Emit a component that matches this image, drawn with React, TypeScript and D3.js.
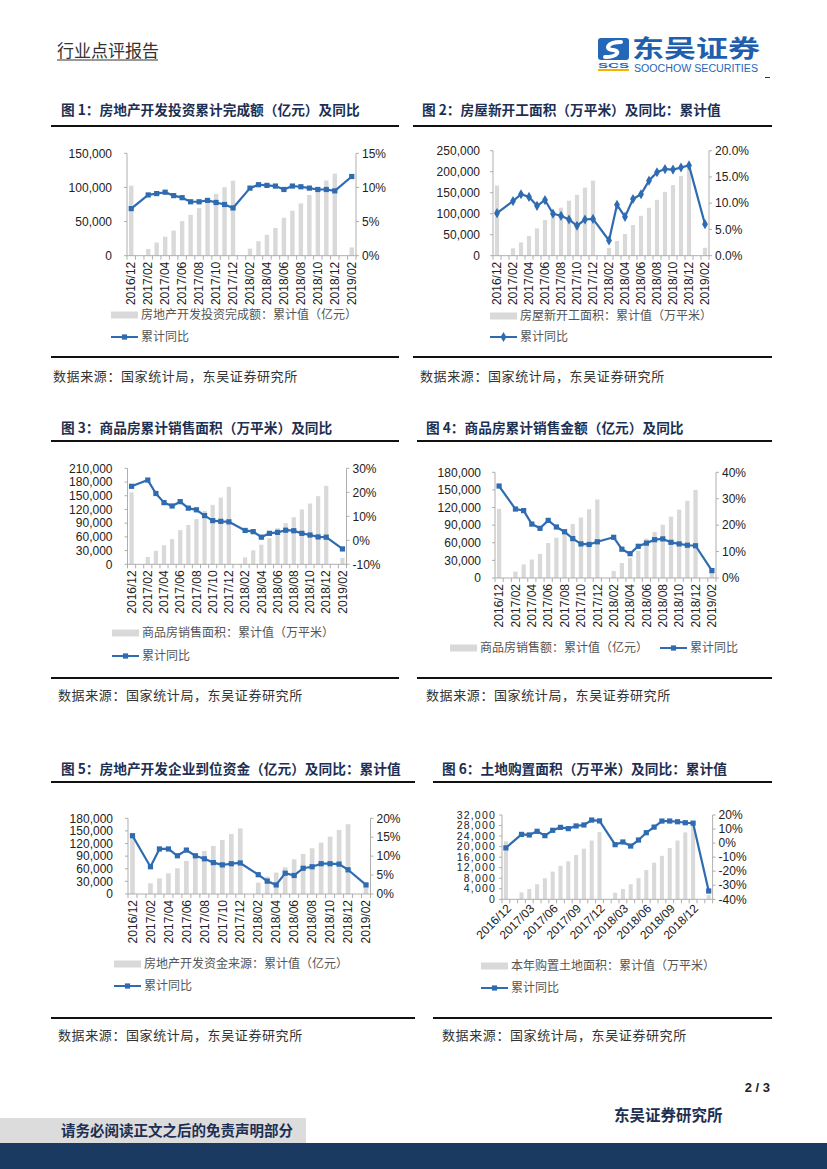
import React from 'react';
import * as d3 from 'd3';

// category axis: Jan is empty (Jan-Feb reported together)
const months = [
  '2016/12',
  '2017/01', '2017/02', '2017/03', '2017/04', '2017/05', '2017/06', '2017/07', '2017/08', '2017/09', '2017/10', '2017/11', '2017/12',
  '2018/01', '2018/02', '2018/03', '2018/04', '2018/05', '2018/06', '2018/07', '2018/08', '2018/09', '2018/10', '2018/11', '2018/12',
  '2019/01', '2019/02',
];
const ticksEvery2 = ['2016/12', '2017/02', '2017/04', '2017/06', '2017/08', '2017/10', '2017/12', '2018/02', '2018/04', '2018/06', '2018/08', '2018/10', '2018/12', '2019/02'];
const ticksEvery3 = ['2016/12', '2017/03', '2017/06', '2017/09', '2017/12', '2018/03', '2018/06', '2018/09', '2018/12'];

// fig 1: investment (亿元) / yoy %
const investValue = [102581, null, 9854, 19292, 27732, 36800, 50610, 59761, 69694, 80644, 90544, 100387, 109799, null, 10357, 21291, 30592, 40632, 55531, 65878, 76519, 88948, 98500, 110083, 120264, null, 12090];
const investYoy = [6.9, null, 8.9, 9.1, 9.3, 8.8, 8.5, 7.9, 7.9, 8.1, 7.8, 7.5, 7.0, null, 9.9, 10.4, 10.3, 10.2, 9.7, 10.2, 10.1, 9.9, 9.7, 9.7, 9.5, null, 11.6];

// fig 2: new starts (万平米)
const startsValue = [166928, null, 17500, 31700, 46800, 65000, 85000, 99200, 114300, 131000, 145000, 162000, 178654, null, 18800, 35000, 51600, 73000, 95000, 114000, 133000, 152000, 168000, 190000, 209342, null, 18800];
const startsYoy = [8.1, null, 10.4, 11.7, 11.2, 9.5, 10.6, 8.0, 7.6, 6.9, 5.7, 6.9, 7.0, null, 2.9, 9.7, 7.4, 10.8, 11.7, 14.3, 15.9, 16.5, 16.4, 16.8, 17.2, null, 6.0];

// fig 3: sales area (万平米)
const salesArea = [157349, null, 16000, 29500, 41500, 55000, 74662, 86000, 99000, 117000, 130000, 146000, 169408, null, 15000, 30500, 43000, 57000, 79000, 90000, 103000, 120000, 133000, 149000, 171654, null, 14102];
const salesAreaYoy = [22.5, null, 25.1, 19.5, 15.7, 14.3, 16.1, 13.4, 12.7, 10.3, 8.2, 7.9, 7.7, null, 4.1, 3.6, 1.3, 2.9, 3.3, 4.2, 4.0, 2.9, 2.2, 1.4, 1.3, null, -3.6];

// fig 4: sales value (亿元)
const salesValue = [117627, null, 10900, 23000, 31400, 41000, 59500, 68600, 79000, 92000, 103000, 117000, 133701, null, 12000, 25500, 34300, 46000, 66945, 78500, 90700, 104400, 116300, 131500, 149973, null, 12303];
const salesValueYoy = [34.8, null, 26.1, 25.5, 20.4, 18.8, 21.8, 19.3, 17.5, 14.9, 12.9, 12.7, 13.7, null, 15.4, 10.9, 9.2, 12.0, 13.2, 14.5, 14.8, 13.5, 12.9, 12.4, 12.2, null, 2.8];

// fig 5: funds in place (亿元)
const fundsValue = [144214, null, 25400, 37300, 49200, 61100, 78600, 89000, 102400, 114300, 128600, 142900, 156053, null, 27000, 41300, 51000, 63500, 82500, 95200, 108700, 122200, 136500, 152400, 165963, null, 25500];
const fundsYoy = [15.4, null, 7.2, 11.9, 11.9, 10.1, 11.6, 10.1, 9.3, 8.3, 7.7, 8.0, 8.2, null, 5.1, 3.4, 2.4, 5.5, 4.9, 6.8, 7.2, 8.0, 8.0, 7.9, 6.4, null, 2.4];

// fig 6: land purchase (万平米)
const landValue = [22025, null, 2600, 3900, 5700, 8000, 10500, 12700, 14400, 16800, 19200, 22300, 25508, null, 2500, 3900, 5700, 8000, 11100, 13900, 16500, 19500, 22300, 25400, 29142, null, 1600];
const landYoy = [-3.4, null, 6.2, 5.8, 8.4, 5.3, 9.1, 11.2, 10.3, 12.2, 12.9, 16.4, 15.8, null, -1.1, 0.8, -2.1, 2.2, 7.4, 11.4, 15.7, 15.7, 15.2, 14.5, 14.2, null, -34.1];

const BLUE = '#2f6bb0';
const BAR = '#d9d9d9';
const AXIS = '#a6a6a6';
const NAVY = '#1d2f52';
const CN = '"Noto Sans CJK SC", sans-serif';
const NUM = '"Liberation Sans", Arial, sans-serif';

type Legend = { kind: 'bar' | 'line'; x: number; y: number; text: string };

interface Spec {
  x0: number; x1: number; yTop: number; yBot: number;
  leftMax: number; leftStep: number; leftGap: number; leftFont: number; leftSpacing: number;
  rMin: number; rMax: number; rStep: number; rDigits: number; rightFont: number;
  bars: (number | null)[]; yoy: (number | null)[];
  xTicks: string[]; rotate: number;
  marker: 'square' | 'diamond';
  legends: Legend[];
}

interface Panel {
  title: string; titleX: number; titleY: number;
  lineX1: number; lineX2: number; titleLineY: number; sepY: number;
  sourceX: number; sourceY: number;
  spec: Spec;
}

const Marker = ({ kind, x, y }: { kind: 'square' | 'diamond'; x: number; y: number }) =>
  kind === 'square'
    ? <rect x={x - 2.6} y={y - 2.6} width={5.2} height={5.2} fill={BLUE} />
    : <path d={d3.symbol(d3.symbolDiamond, 30)() as string} transform={`translate(${x},${y})`} fill={BLUE} />;

function ComboChart({ s }: { s: Spec }) {
  const x = d3.scaleBand<string>().domain(months).range([s.x0, s.x1]);
  const bw = x.bandwidth();
  const cx = (m: string) => (x(m) as number) + bw / 2;
  const yL = d3.scaleLinear().domain([0, s.leftMax]).range([s.yBot, s.yTop]);
  const yR = d3.scaleLinear().domain([s.rMin, s.rMax]).range([s.yBot, s.yTop]);
  const leftTicks = d3.range(0, s.leftMax + 1, s.leftStep);
  const rightTicks = d3.range(s.rMin, s.rMax + 1e-9, s.rStep);
  const pts = months
    .map((m, i) => ({ m, v: s.yoy[i] }))
    .filter(d => d.v !== null) as { m: string; v: number }[];
  const line = d3.line<{ m: string; v: number }>().x(d => cx(d.m)).y(d => yR(d.v));
  const fmtL = d3.format(',');
  const boundaries = [...months.map(m => x(m) as number), s.x1];

  return (
    <g>
      {/* bars */}
      {months.map((m, i) => {
        const v = s.bars[i];
        if (v === null) return null;
        return <rect key={m} x={cx(m) - bw * 0.26} width={bw * 0.52} y={yL(v)} height={s.yBot - yL(v)} fill={BAR} />;
      })}

      {/* axes */}
      <g stroke={AXIS} strokeWidth={0.9}>
        <line x1={s.x0} x2={s.x0} y1={s.yTop} y2={s.yBot} />
        <line x1={s.x1} x2={s.x1} y1={s.yTop} y2={s.yBot} />
        <line x1={s.x0} x2={s.x1} y1={s.yBot} y2={s.yBot} />
        {leftTicks.map(t => <line key={'l' + t} x1={s.x0 - 3} x2={s.x0} y1={yL(t)} y2={yL(t)} />)}
        {rightTicks.map(t => <line key={'r' + t} x1={s.x1} x2={s.x1 + 3} y1={yR(t)} y2={yR(t)} />)}
        {boundaries.map((b, i) => <line key={'b' + i} x1={b} x2={b} y1={s.yBot} y2={s.yBot + 4} />)}
      </g>

      <g fontFamily={NUM} fill="#222">
        {leftTicks.map(t => (
          <text key={'lt' + t} x={s.x0 - s.leftGap} y={yL(t)} dy="0.35em" textAnchor="end"
            fontSize={s.leftFont} letterSpacing={s.leftSpacing}>{fmtL(t)}</text>
        ))}
        {rightTicks.map(t => (
          <text key={'rt' + t} x={s.x1 + 6} y={yR(t)} dy="0.35em" fontSize={s.rightFont}>{t.toFixed(s.rDigits) + '%'}</text>
        ))}
      </g>

      <g fontFamily={NUM} fontSize={12} fill="#222">
        {s.xTicks.map(m => (
          s.rotate === -90
            ? <text key={m} transform={`translate(${cx(m)},${s.yBot + 6}) rotate(-90)`} textAnchor="end" dy="0.35em">{m}</text>
            : <text key={m} transform={`translate(${cx(m) + 3},${s.yBot + 7}) rotate(-45)`} textAnchor="end" dy="0.35em">{m}</text>
        ))}
      </g>

      {/* yoy line */}
      <path d={line(pts) as string} fill="none" stroke={BLUE} strokeWidth={2.2} strokeLinejoin="round" />
      {pts.map(d => <Marker key={d.m} kind={s.marker} x={cx(d.m)} y={yR(d.v)} />)}

      {/* legend */}
      {s.legends.map(l => (
        <g key={l.text + l.kind}>
          {l.kind === 'bar'
            ? <rect x={l.x} y={l.y - 3.5} width={27} height={7} fill={BAR} />
            : <g>
                <line x1={l.x} x2={l.x + 27} y1={l.y} y2={l.y} stroke={BLUE} strokeWidth={2} />
                <Marker kind={s.marker} x={l.x + 13.5} y={l.y} />
              </g>}
          <text x={l.x + 30} y={l.y} dy="0.36em" fontFamily={CN} fontSize={12} fill="#555">{l.text}</text>
        </g>
      ))}
    </g>
  );
}

const lineLegend = '累计同比';

const panels: Panel[] = [
  {
    title: '图 1：房地产开发投资累计完成额（亿元）及同比', titleX: 61, titleY: 110,
    lineX1: 51, lineX2: 399, titleLineY: 126, sepY: 357, sourceX: 53, sourceY: 376,
    spec: {
      x0: 127, x1: 356, yTop: 153.3, yBot: 255.7, leftMax: 150000, leftStep: 50000, leftGap: 15, leftFont: 12, leftSpacing: 0,
      rMin: 0, rMax: 15, rStep: 5, rDigits: 0, rightFont: 12, bars: investValue, yoy: investYoy,
      xTicks: ticksEvery2, rotate: -90, marker: 'square',
      legends: [
        { kind: 'bar', x: 111, y: 315, text: '房地产开发投资完成额：累计值（亿元）' },
        { kind: 'line', x: 111, y: 337, text: lineLegend },
      ],
    },
  },
  {
    title: '图 2：房屋新开工面积（万平米）及同比：累计值', titleX: 422, titleY: 110,
    lineX1: 413, lineX2: 772, titleLineY: 126, sepY: 357, sourceX: 420, sourceY: 376,
    spec: {
      x0: 493, x1: 709, yTop: 150.7, yBot: 255.7, leftMax: 250000, leftStep: 50000, leftGap: 13, leftFont: 12, leftSpacing: 0,
      rMin: 0, rMax: 20, rStep: 5, rDigits: 1, rightFont: 12, bars: startsValue, yoy: startsYoy,
      xTicks: ticksEvery2, rotate: -90, marker: 'diamond',
      legends: [
        { kind: 'bar', x: 490, y: 316, text: '房屋新开工面积：累计值（万平米）' },
        { kind: 'line', x: 490, y: 337, text: lineLegend },
      ],
    },
  },
  {
    title: '图 3：商品房累计销售面积（万平米）及同比', titleX: 61, titleY: 428,
    lineX1: 51, lineX2: 399, titleLineY: 441, sepY: 678, sourceX: 58, sourceY: 695,
    spec: {
      x0: 127.5, x1: 346.5, yTop: 468.3, yBot: 564.3, leftMax: 210000, leftStep: 30000, leftGap: 15, leftFont: 12, leftSpacing: 0,
      rMin: -10, rMax: 30, rStep: 10, rDigits: 0, rightFont: 12, bars: salesArea, yoy: salesAreaYoy,
      xTicks: ticksEvery2, rotate: -90, marker: 'square',
      legends: [
        { kind: 'bar', x: 112, y: 633, text: '商品房销售面积：累计值（万平米）' },
        { kind: 'line', x: 112, y: 656, text: lineLegend },
      ],
    },
  },
  {
    title: '图 4：商品房累计销售金额（亿元）及同比', titleX: 426, titleY: 428,
    lineX1: 417, lineX2: 772, titleLineY: 441, sepY: 678, sourceX: 426, sourceY: 695,
    spec: {
      x0: 495, x1: 716, yTop: 472.3, yBot: 578, leftMax: 180000, leftStep: 30000, leftGap: 14, leftFont: 12, leftSpacing: 0,
      rMin: 0, rMax: 40, rStep: 10, rDigits: 0, rightFont: 12, bars: salesValue, yoy: salesValueYoy,
      xTicks: ticksEvery2, rotate: -90, marker: 'square',
      legends: [
        { kind: 'bar', x: 450, y: 648, text: '商品房销售额：累计值（亿元）' },
        { kind: 'line', x: 660, y: 648, text: lineLegend },
      ],
    },
  },
  {
    title: '图 5：房地产开发企业到位资金（亿元）及同比：累计值', titleX: 61, titleY: 769,
    lineX1: 51, lineX2: 415, titleLineY: 782, sepY: 1018, sourceX: 58, sourceY: 1035,
    spec: {
      x0: 128, x1: 370.5, yTop: 818.3, yBot: 894, leftMax: 180000, leftStep: 30000, leftGap: 15, leftFont: 12, leftSpacing: 0,
      rMin: 0, rMax: 20, rStep: 5, rDigits: 0, rightFont: 12, bars: fundsValue, yoy: fundsYoy,
      xTicks: ticksEvery2, rotate: -90, marker: 'square',
      legends: [
        { kind: 'bar', x: 114, y: 964, text: '房地产开发资金来源：累计值（亿元）' },
        { kind: 'line', x: 114, y: 986, text: lineLegend },
      ],
    },
  },
  {
    title: '图 6：土地购置面积（万平米）及同比：累计值', titleX: 442, titleY: 769,
    lineX1: 433, lineX2: 772, titleLineY: 782, sepY: 1018, sourceX: 442, sourceY: 1035,
    spec: {
      x0: 502, x1: 712.6, yTop: 815, yBot: 899.3, leftMax: 32000, leftStep: 4000, leftGap: 6, leftFont: 10.5, leftSpacing: 1.2,
      rMin: -40, rMax: 20, rStep: 10, rDigits: 0, rightFont: 12, bars: landValue, yoy: landYoy,
      xTicks: ticksEvery3, rotate: -45, marker: 'square',
      legends: [
        { kind: 'bar', x: 481, y: 966, text: '本年购置土地面积：累计值（万平米）' },
        { kind: 'line', x: 481, y: 988, text: lineLegend },
      ],
    },
  },
];

function Header() {
  return (
    <g>
      <text x={57} y={51} dy="0.35em" fontFamily={CN} fontSize={17} fill="#333">行业点评报告</text>
      <line x1={57} x2={158} y1={60} y2={60} stroke="#333" strokeWidth={1} />
      {/* logo */}
      <rect x={598} y={38} width={31} height={22} rx={3} fill="#2466b8" />
      <path d="M621,42 C606,42 605,50 613,50 C620,50 619,57 605,57" fill="none" stroke="#fff" strokeWidth={4} strokeLinecap="round" />
      <text x={598} y={67.5} fontFamily={NUM} fontWeight="bold" fontSize={8} fill="#2466b8" textLength={31} lengthAdjust="spacingAndGlyphs">SCS</text>
      <rect x={598} y={69} width={31} height={2} fill="#f2b400" />
      <text x={632} y={57} fontFamily={CN} fontWeight="bold" fontSize={24} fill="#1f5fae" textLength={128} lengthAdjust="spacingAndGlyphs">东吴证券</text>
      <text x={634} y={72} fontFamily={NUM} fontSize={10} fill="#2466b8" textLength={124} lengthAdjust="spacingAndGlyphs">SOOCHOW SECURITIES</text>
      <line x1={765} x2={770} y1={77.5} y2={77.5} stroke="#333" strokeWidth={1} />
    </g>
  );
}

function Footer() {
  return (
    <g>
      <text x={770} y={1087} dy="0.35em" textAnchor="end" fontFamily={NUM} fontWeight="bold" fontSize={13} fill="#222">2 / 3</text>
      <text x={614} y={1116} dy="0.35em" fontFamily={CN} fontWeight="bold" fontSize={15.5} fill="#1d2f52">东吴证券研究所</text>
      <rect x={0} y={1118} width={306} height={25} fill="#dcdcdc" />
      <text x={61} y={1131} dy="0.35em" fontFamily={CN} fontWeight="bold" fontSize={14.5} fill={NAVY}>请务必阅读正文之后的免责声明部分</text>
      <rect x={0} y={1143} width={827} height={26} fill="#1b3a62" />
    </g>
  );
}

export default function App() {
  return (
    <svg width={827} height={1169} viewBox="0 0 827 1169" style={{ position: 'absolute', left: 0, top: 0, display: 'block' }}>
      <rect width={827} height={1169} fill="#fff" />
      <Header />
      {panels.map(p => (
        <g key={p.title}>
          <text x={p.titleX} y={p.titleY} dy="0.36em" fontFamily={CN} fontWeight="bold" fontSize={13.7} fill={NAVY}>{p.title}</text>
          <line x1={p.lineX1} x2={p.lineX2} y1={p.titleLineY} y2={p.titleLineY} stroke="#111" strokeWidth={2} />
          <ComboChart s={p.spec} />
          <line x1={p.lineX1} x2={p.lineX2} y1={p.sepY} y2={p.sepY} stroke="#111" strokeWidth={2} />
          <text x={p.sourceX} y={p.sourceY} dy="0.36em" fontFamily={CN} fontSize={13} letterSpacing={0.6} fill="#333">数据来源：国家统计局，东吴证券研究所</text>
        </g>
      ))}
      <Footer />
    </svg>
  );
}
